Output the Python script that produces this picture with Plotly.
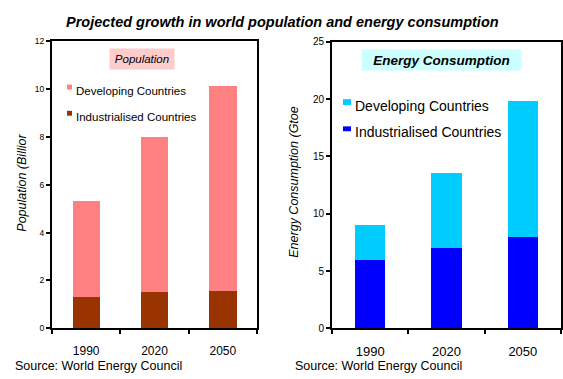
import plotly.graph_objects as go

W, H = 563, 379

years = ["1990", "2020", "2050"]
pop_industrialised = [1.3, 1.5, 1.55]
pop_developing = [4.0, 6.5, 8.55]
energy_industrialised = [6.0, 7.0, 8.0]
energy_developing = [3.0, 6.6, 11.8]

series_dev = "Developing Countries"
series_ind = "Industrialised Countries"

c_pop_dev, c_pop_ind = "#FF8080", "#993300"
c_en_dev, c_en_ind = "#00CCFF", "#0000FF"

def px(x):
    return x / W

def py(y):
    return 1 - y / H

FONT = "Liberation Sans, Arial, sans-serif"

fig = go.Figure()
fig.add_trace(go.Bar(x=years, y=pop_industrialised, name=series_ind, marker_color=c_pop_ind,
                     marker_line_width=0, xaxis="x", yaxis="y", showlegend=False))
fig.add_trace(go.Bar(x=years, y=pop_developing, name=series_dev, marker_color=c_pop_dev,
                     marker_line_width=0, xaxis="x", yaxis="y", showlegend=False))
fig.add_trace(go.Bar(x=years, y=energy_industrialised, name=series_ind, marker_color=c_en_ind,
                     marker_line_width=0, xaxis="x2", yaxis="y2", showlegend=False))
fig.add_trace(go.Bar(x=years, y=energy_developing, name=series_dev, marker_color=c_en_dev,
                     marker_line_width=0, xaxis="x2", yaxis="y2", showlegend=False))

axis_common = dict(showline=True, linecolor="black", linewidth=2, mirror=True,
                   showgrid=False, zeroline=False, ticks="outside", ticklen=4,
                   tickcolor="black", tickwidth=1.5)

fig.update_layout(
    width=W, height=H,
    margin=dict(l=0, r=0, t=0, b=0),
    paper_bgcolor="white", plot_bgcolor="white",
    barmode="stack", bargap=0.6,
    showlegend=False,
    font=dict(family=FONT, color="black"),
    xaxis=dict(domain=[px(52), px(257)], anchor="y", tickson="boundaries",
               tickfont=dict(size=12), ticklabelstandoff=10, **axis_common),
    yaxis=dict(domain=[py(333), py(37)], anchor="x", range=[0, 12], dtick=2,
               tickfont=dict(size=8.5), **axis_common),
    xaxis2=dict(domain=[px(332), px(561)], anchor="y2", tickson="boundaries",
                tickfont=dict(size=13), ticklabelstandoff=10, **axis_common),
    yaxis2=dict(domain=[py(333), py(38)], anchor="x2", range=[0, 25], dtick=5,
                tickfont=dict(size=10), **axis_common),
)

ann = []
# main title
ann.append(dict(text="<b><i>Projected growth in world population and energy consumption</i></b>",
                x=px(282), y=py(17), xref="paper", yref="paper", showarrow=False,
                font=dict(size=14.5), xanchor="center", yanchor="middle"))
# panel titles with boxes
ann.append(dict(text="<i>Population</i>", x=px(142), y=py(56), xref="paper", yref="paper",
                showarrow=False, font=dict(size=11.5), bgcolor="#FFCCCC",
                width=62, height=18, xanchor="center", yanchor="middle"))
ann.append(dict(text="<b><i>Energy Consumption</i></b>", x=px(441), y=py(57), xref="paper", yref="paper",
                showarrow=False, font=dict(size=13.5), bgcolor="#CCFFFF",
                width=157, height=18, xanchor="center", yanchor="middle"))
# axis titles
ann.append(dict(text="<i>Population (Billior</i>", x=px(22), y=py(183), xref="paper", yref="paper",
                showarrow=False, textangle=-90, font=dict(size=12.5),
                xanchor="center", yanchor="middle"))
ann.append(dict(text="<i>Energy Consumption (Gtoe</i>", x=px(294), y=py(182), xref="paper", yref="paper",
                showarrow=False, textangle=-90, font=dict(size=12.5),
                xanchor="center", yanchor="middle"))
# legends (text)
ann.append(dict(text=series_dev, x=px(74), y=py(89), xref="paper", yref="paper", showarrow=False,
                font=dict(size=11.5), xanchor="left", yanchor="middle"))
ann.append(dict(text=series_ind, x=px(74), y=py(115), xref="paper", yref="paper", showarrow=False,
                font=dict(size=11.5), xanchor="left", yanchor="middle"))
ann.append(dict(text=series_dev, x=px(353), y=py(104), xref="paper", yref="paper", showarrow=False,
                font=dict(size=14), xanchor="left", yanchor="middle"))
ann.append(dict(text=series_ind, x=px(353), y=py(131), xref="paper", yref="paper", showarrow=False,
                font=dict(size=14), xanchor="left", yanchor="middle"))
# source
ann.append(dict(text="Source: World Energy Council", x=px(13), y=py(372), xref="paper", yref="paper",
                showarrow=False, font=dict(size=12.5), xanchor="left", yanchor="middle"))
ann.append(dict(text="Source: World Energy Council", x=px(293), y=py(372), xref="paper", yref="paper",
                showarrow=False, font=dict(size=12.5), xanchor="left", yanchor="middle"))
fig.update_layout(annotations=ann)

# legend swatches
def swatch(x0, y0, x1, y1, color):
    fig.add_shape(type="rect", xref="paper", yref="paper",
                  x0=px(x0), x1=px(x1), y0=py(y1), y1=py(y0),
                  fillcolor=color, line_width=0)

swatch(67, 82, 72, 87, c_pop_dev)
swatch(67, 109, 72, 114, c_pop_ind)
swatch(343, 97, 351, 103, c_en_dev)
swatch(343, 125, 351, 130, c_en_ind)

fig.write_html("out.html")
